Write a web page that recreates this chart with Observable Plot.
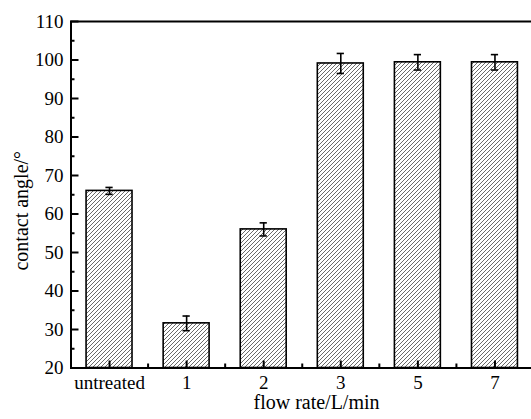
<!DOCTYPE html>
<html>
<head>
<meta charset="utf-8">
<script src="https://cdn.jsdelivr.net/npm/d3@7"></script>
<script src="https://cdn.jsdelivr.net/npm/@observablehq/plot@0.6"></script>
<style>
  html, body { margin: 0; padding: 0; background: #fff; }
</style>
</head>
<body>
<div id="chart"></div>
<script>
const categories = ["untreated", "1", "2", "3", "5", "7"];
const angles = [66.0, 31.6, 56.0, 99.1, 99.4, 99.4];
const errors = [0.9, 1.9, 1.7, 2.6, 2.0, 2.0];
const yMajorTicks = [20, 30, 40, 50, 60, 70, 80, 90, 100, 110];
const yMinorTicks = [25, 35, 45, 55, 65, 75, 85, 95, 105];
const xMajorTicks = [0, 1, 2, 3, 4, 5];
const xMinorTicks = [0.5, 1.5, 2.5, 3.5, 4.5];
const xLabel = "flow rate/L/min";
const yLabel = "contact angle/°";

const data = categories.map((c, i) => ({i, cat: c, value: angles[i], err: errors[i]}));

const xMin = -0.5, xMax = 5.5, yMin = 20, yMax = 110;
const xRange = [70.5, 533];
const W = 531, H = 419, MT = 21, MB = 51.5;
// pixels per data unit, to express tick lengths in pixels
const pxX = (xRange[1] - xRange[0]) / (xMax - xMin);
const pxY = (H - MT - MB) / (yMax - yMin);
const half = 0.298;
const cap = 0.047;

const chart = Plot.plot({
  width: W,
  height: H,
  marginLeft: 70,
  marginRight: 0,
  marginTop: MT,
  marginBottom: MB,
  style: {fontFamily: "'Liberation Serif', serif", background: "#fff", color: "#000"},
  x: {type: "linear", domain: [xMin, xMax], range: xRange, axis: null},
  y: {domain: [yMin, yMax], axis: null},
  marks: [
    Plot.rectY(data, {x1: d => d.i - half, x2: d => d.i + half, y1: yMin, y2: "value", fill: "url(#hatch)", stroke: "#000", strokeWidth: 1.6}),
    Plot.ruleX(data, {x: "i", y1: d => d.value - d.err, y2: d => d.value + d.err, stroke: "#000", strokeWidth: 1.6}),
    Plot.ruleY(data, {y: d => d.value + d.err, x1: d => d.i - cap, x2: d => d.i + cap, stroke: "#000", strokeWidth: 1.6}),
    Plot.ruleY(data, {y: d => d.value - d.err, x1: d => d.i - cap, x2: d => d.i + cap, stroke: "#000", strokeWidth: 1.6}),
    Plot.axisY(yMajorTicks, {anchor: "left", tickSize: 0, tickPadding: 7, fontSize: 19, label: null}),
    Plot.axisX(xMajorTicks, {anchor: "bottom", tickSize: 0, tickPadding: 7, fontSize: 19, tickFormat: i => categories[i], label: null}),
    Plot.text([xLabel], {frameAnchor: "bottom", textAnchor: "middle", lineAnchor: "middle", dx: 15.5, dy: 35, fontSize: 20}),
    Plot.text([yLabel], {frameAnchor: "left", textAnchor: "middle", lineAnchor: "middle", dx: -49, dy: 16, rotate: -90, fontSize: 20}),
    Plot.ruleY([yMin], {stroke: "#000", strokeWidth: 2}),
    Plot.ruleY([yMax], {stroke: "#000", strokeWidth: 2}),
    Plot.ruleX([xMin], {stroke: "#000", strokeWidth: 2}),
    // inward ticks on the left axis
    Plot.ruleY(yMajorTicks, {y: d => d, x1: xMin, x2: xMin + 8 / pxX, stroke: "#000", strokeWidth: 2}),
    Plot.ruleY(yMinorTicks, {y: d => d, x1: xMin, x2: xMin + 4 / pxX, stroke: "#000", strokeWidth: 2}),
    // inward ticks on the bottom axis
    Plot.ruleX(xMajorTicks, {x: d => d, y1: yMin, y2: yMin + 7 / pxY, stroke: "#000", strokeWidth: 2}),
    Plot.ruleX(xMinorTicks, {x: d => d, y1: yMin, y2: yMin + 4 / pxY, stroke: "#000", strokeWidth: 2})
  ]
});

const ns = "http://www.w3.org/2000/svg";
const defs = document.createElementNS(ns, "defs");
defs.innerHTML = `<pattern id="hatch" patternUnits="userSpaceOnUse" width="4" height="4">
  <rect width="4" height="4" fill="#fff"/>
  <path d="M-1,1 L1,-1 M0,4 L4,0 M3,5 L5,3" stroke="#6a6a6a" stroke-width="1"/>
</pattern>`;
chart.insertBefore(defs, chart.firstChild);
document.getElementById("chart").appendChild(chart);
</script>
</body>
</html>
